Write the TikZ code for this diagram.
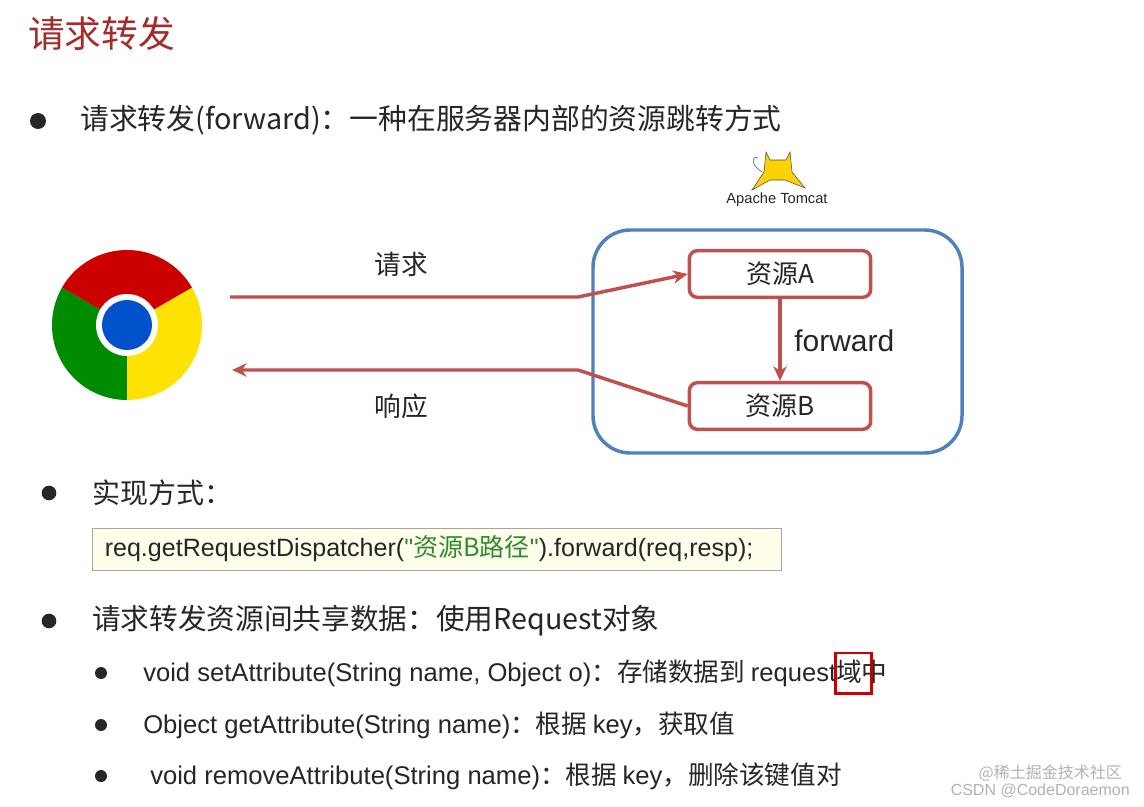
\documentclass[tikz,border=0pt]{standalone}
\usepackage{fontspec}
\usetikzlibrary{arrows.meta}
\setmainfont{Noto Sans CJK SC}
\newfontfamily\lat{Liberation Sans}
\definecolor{titred}{HTML}{A52A2A}
\definecolor{arr}{HTML}{C0504D}
\definecolor{tbox}{HTML}{4F81BD}
\definecolor{txt}{HTML}{262626}
\definecolor{cgreen}{HTML}{2E8B2E}
\begin{document}
\begin{tikzpicture}[x=0.75pt,y=-0.75pt,
  every node/.style={text=txt,inner sep=0pt},
  res/.style={draw=arr,line width=2.6pt,rounded corners=6pt,minimum width=136pt,minimum height=35pt,font=\fontsize{19.5}{21}\selectfont,fill=white},
  rarr/.style={draw=arr,line width=2.6pt,-{Stealth[length=11pt,width=10pt]}},
  bul/.style={circle,fill=txt,minimum size=#1,inner sep=0pt}]
\useasboundingbox (0,0) rectangle (1144,806);
\fill[white] (0,0) rectangle (1144,806);
\node[anchor=west,text=titred,font=\fontsize{27.5}{29}\selectfont] (title) at (28,34) {请求转发};
\node[bul=12pt] (b1) at (38,121) {};
\node[anchor=west,font=\fontsize{21.6}{24}\selectfont] (l1) at (80,120) {请求转发(forward)：一种在服务器内部的资源跳转方式};
% chrome
\fill[green!55!black] (127,325) ++(90:75) arc[start angle=90,end angle=210,radius=75] -- (127,325) -- cycle;
\fill[yellow!85!orange] (127,325) ++(330:75) arc[start angle=330,end angle=450,radius=75] -- (127,325) -- cycle;
\fill[red!80!black] (127,325) ++(210:75) arc[start angle=210,end angle=330,radius=75] -- (127,325) -- cycle;
\fill[white] (127,325) circle[radius=31];
\fill[blue!60!cyan!80!black] (127,325) circle[radius=25];
\node (chrome) at (127,325) {};
% tomcat
\node (cat) at (777,172) {};
\filldraw[fill=yellow!70!orange,draw=black!70,thin] (766,152) -- (770,160) -- (786,160) -- (790,152) -- (792,172) -- (805,188) -- (785,180) -- (770,180) -- (752,190) -- (764,172) -- cycle;
\draw[black!70,thin] (762,172) .. controls (750,165) and (752,155) .. (758,158);
\node[font=\lat\fontsize{11}{12}\selectfont] (tomcat) at (777,200) {Apache Tomcat};
% server
\draw[tbox,line width=2.6pt,rounded corners=28pt] (593,230) rectangle (962,453);
\node[res] (A) at (780,274) {资源A};
\node[res] (B) at (780,406) {资源B};
\coordinate (s1) at (230,297);
\coordinate (k1) at (578,297);
\draw[rarr] (s1) -- (k1) -- (A.west);
\coordinate (k2) at (578,370);
\coordinate (e2) at (232,370);
\draw[rarr] (B.west) -- (k2) -- (e2);
\draw[rarr] (A.south) -- (B.north);
\node[anchor=west,font=\lat\fontsize{22.5}{24}\selectfont] (fw) at (794,341) {forward};
\node[font=\fontsize{20}{22}\selectfont] (req) at (401,264) {请求};
\node[font=\fontsize{20}{22}\selectfont] (resp) at (401,406) {响应};
% impl
\node[bul=11pt] (b2) at (49,493) {};
\node[anchor=west,font=\fontsize{21}{22}\selectfont] (l2) at (92,493) {实现方式：};
\node[draw=gray!70,fill=yellow!8,anchor=west,minimum width=516.75pt,minimum height=31.5pt,text width=498pt,inner xsep=9pt,align=left,font=\fontsize{18.8}{20}\selectfont] (code) at (92,549) {{\lat req.getRequestDispatcher(}\textcolor{cgreen}{{\lat"}资源B路径{\lat"}}{\lat).forward(req,resp);}};
\node[bul=11pt] (b3) at (49,621) {};
\node[anchor=west,font=\fontsize{21.5}{22}\selectfont] (l3) at (92,621) {请求转发资源间共享数据：使用Request对象};
\node[bul=9pt] (s1b) at (101,673) {};
\node[anchor=west,font=\fontsize{19.2}{20}\selectfont] (m1) at (143,673) {{\lat void setAttribute(String name, Object o)}：存储数据到 {\lat request}域中};
\node[bul=9pt] (s2b) at (101,725) {};
\node[anchor=west,font=\fontsize{19.2}{20}\selectfont] (m2) at (143,725) {{\lat Object getAttribute(String name)}：根据 {\lat key}，获取值};
\node[bul=9pt] (s3b) at (101,776) {};
\node[anchor=west,font=\fontsize{19.2}{20}\selectfont] (m3) at (150,776) {{\lat void removeAttribute(String name)}：根据 {\lat key}，删除该键值对};
\coordinate (rb1) at ([xshift=-39pt,yshift=15pt]m1.east);
\coordinate (rb2) at ([xshift=-12pt,yshift=-15.5pt]m1.east);
\draw[red!80!black,line width=2pt] (rb1) rectangle (rb2);
\node[anchor=east,text=gray!60,font=\fontsize{12}{13}\selectfont] (wm1) at (1122,773) {@稀土掘金技术社区};
\node[anchor=east,text=gray!60,font=\lat\fontsize{12}{13}\selectfont] (wm2) at (1130,791) {CSDN @CodeDoraemon};
\end{tikzpicture}
\end{document}
